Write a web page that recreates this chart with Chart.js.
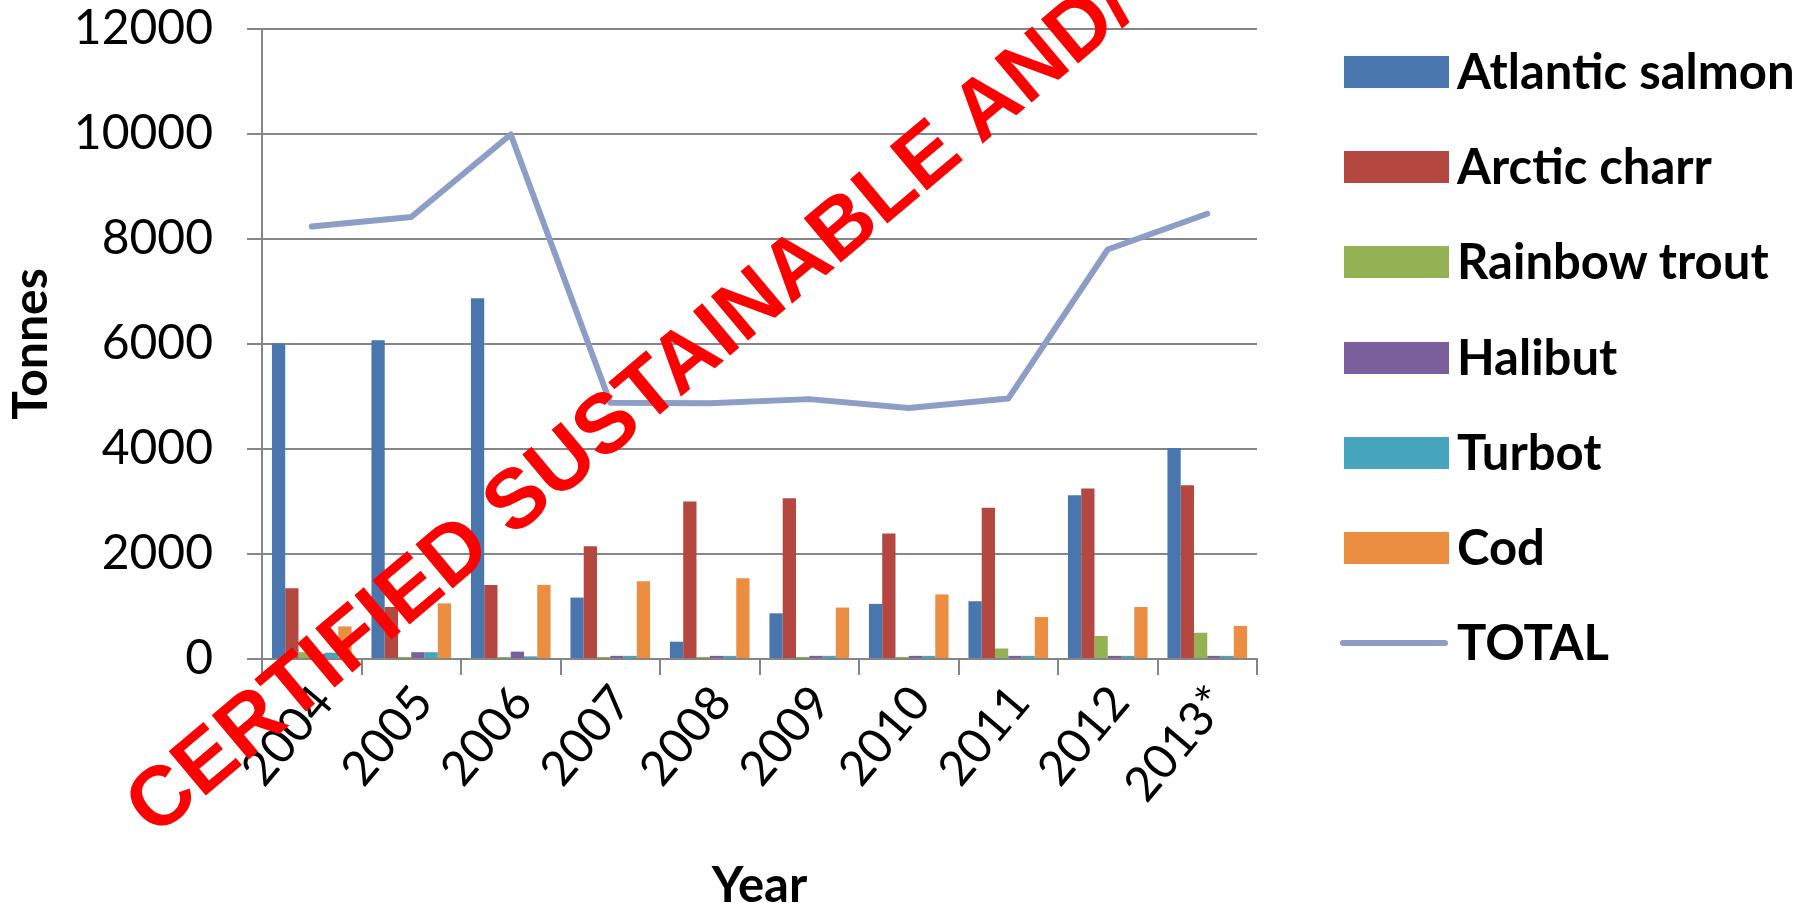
<!DOCTYPE html>
<html>
<head>
<meta charset="utf-8">
<script src="https://cdn.jsdelivr.net/npm/chart.js@4.4.1/dist/chart.umd.min.js"></script>
<style>
  html, body { margin: 0; padding: 0; background: #ffffff; }
  #wrap { position: relative; width: 1816px; height: 903px; overflow: hidden; background: #ffffff; }
  #c { position: absolute; left: 0; top: 0; }
  #legend { position: absolute; left: 0; top: 0; width: 1816px; height: 903px; pointer-events: none; }
  .lg-box { position: absolute; }
  .lg-text { position: absolute; font-family: "Lato"; font-weight: bold; font-size: 49px; line-height: 49px; color: #000; white-space: nowrap; }
  #wm { position: absolute; left: 0; top: 0; pointer-events: none; }
</style>
</head>
<body>
<div id="wrap">
  <canvas id="c" width="1816" height="903"></canvas>
  <div id="legend"></div>
  <svg id="wm" width="1816" height="903" xmlns="http://www.w3.org/2000/svg">
    <text x="155" y="838" transform="rotate(-40 155 838)" font-family="Liberation Sans, Arial, sans-serif" font-weight="bold" font-size="84" fill="#ff0000">CERTIFIED SUSTAINABLE AND/</text>
  </svg>
</div>
<script>
// ---- data ----
const years = ['2004', '2005', '2006', '2007', '2008', '2009', '2010', '2011', '2012', '2013*'];
const seriesNames = ['Atlantic salmon', 'Arctic charr', 'Rainbow trout', 'Halibut', 'Turbot', 'Cod'];
const atlanticSalmon = [6010, 6070, 6870, 1170, 330, 870, 1050, 1100, 3120, 4020];
const arcticCharr   = [1350, 990, 1410, 2150, 3000, 3060, 2390, 2880, 3250, 3310];
const rainbowTrout  = [130, 40, 40, 40, 40, 40, 40, 200, 440, 500];
const halibut       = [100, 130, 140, 60, 60, 60, 60, 60, 60, 60];
const turbot        = [120, 130, 50, 60, 60, 60, 60, 60, 60, 60];
const cod           = [620, 1060, 1410, 1480, 1540, 980, 1230, 800, 990, 630];
const totalName = 'TOTAL';
const total = [8240, 8420, 9990, 4880, 4870, 4950, 4780, 4960, 7800, 8480];
const yTicks = [0, 2000, 4000, 6000, 8000, 10000, 12000];

// ---- styles ----
const barColors = ['#4A76AE', '#B4473F', '#94B254', '#7B5E9C', '#46A4BD', '#EC8E42'];
const lineColor = '#8C9EC6';
const gridColor = '#858585';

const barSeries = [atlanticSalmon, arcticCharr, rainbowTrout, halibut, turbot, cod];

const datasets = barSeries.map((vals, i) => ({
  type: 'bar',
  label: seriesNames[i],
  data: vals,
  backgroundColor: barColors[i],
  borderWidth: 0,
  categoryPercentage: 0.8,
  barPercentage: 1.0,
  order: 2
}));
datasets.push({
  type: 'line',
  label: totalName,
  data: total,
  borderColor: lineColor,
  borderWidth: 6,
  pointRadius: 0,
  tension: 0,
  fill: false,
  borderCapStyle: 'round',
  borderJoinStyle: 'round',
  order: 1
});

new Chart(document.getElementById('c'), {
  type: 'bar',
  data: { labels: years, datasets: datasets },
  options: {
    responsive: false,
    animation: false,
    devicePixelRatio: 1,
    layout: { padding: { left: 0, right: 559, top: 29, bottom: 0 } },
    plugins: { legend: { display: false }, tooltip: { enabled: false } },
    scales: {
      x: {
        offset: true,
        grid: { display: true, drawOnChartArea: false, drawTicks: true, tickLength: 16, color: gridColor, lineWidth: 2, offset: true },
        border: { display: true, color: gridColor, width: 2 },
        ticks: { minRotation: 50, maxRotation: 50, autoSkip: false, padding: 0, labelOffset: 12, color: '#000', font: { family: 'Lato', size: 48 } },
        title: { display: true, text: 'Year', color: '#000', font: { family: 'Lato', size: 49, weight: 'bold', lineHeight: 0.7 }, padding: { top: 0, bottom: 0 } },
        afterFit: (s) => { s.height = 244; s.paddingLeft = 0; s.paddingRight = 0; }
      },
      y: {
        min: 0, max: 12000,
        afterBuildTicks: (s) => { s.ticks = yTicks.map(v => ({ value: v })); },
        grid: { color: gridColor, lineWidth: 2, tickLength: 15, drawTicks: true },
        border: { display: true, color: gridColor, width: 2 },
        ticks: { padding: 34, color: '#000', font: { family: 'Lato', size: 48 }, callback: (v) => String(v) },
        title: { display: true, text: 'Tonnes', color: '#000', font: { family: 'Lato', size: 48, weight: 'bold' }, padding: { top: 3, bottom: 0 } },
        afterFit: (s) => { s.width = 262; s.paddingTop = 0; s.paddingBottom = 0; }
      }
    }
  }
});

// ---- legend (built from the series arrays) ----
const legend = document.getElementById('legend');
const names = seriesNames.concat([totalName]);
const rowStart = 72, rowStep = 95.2;
names.forEach((name, i) => {
  const cy = rowStart + i * rowStep;
  const box = document.createElement('div');
  box.className = 'lg-box';
  if (i < seriesNames.length) {
    box.style.left = '1344px'; box.style.width = '105px';
    box.style.top = (cy - 16) + 'px'; box.style.height = '32px';
    box.style.background = barColors[i];
  } else {
    box.style.left = '1340px'; box.style.width = '108px';
    box.style.top = (cy - 3) + 'px'; box.style.height = '6px';
    box.style.background = lineColor; box.style.borderRadius = '3px';
  }
  legend.appendChild(box);
  const t = document.createElement('div');
  t.className = 'lg-text';
  t.textContent = name;
  t.style.left = '1457px';
  t.style.top = (cy - 0.53 * 49) + 'px';
  legend.appendChild(t);
});
</script>
</body>
</html>
